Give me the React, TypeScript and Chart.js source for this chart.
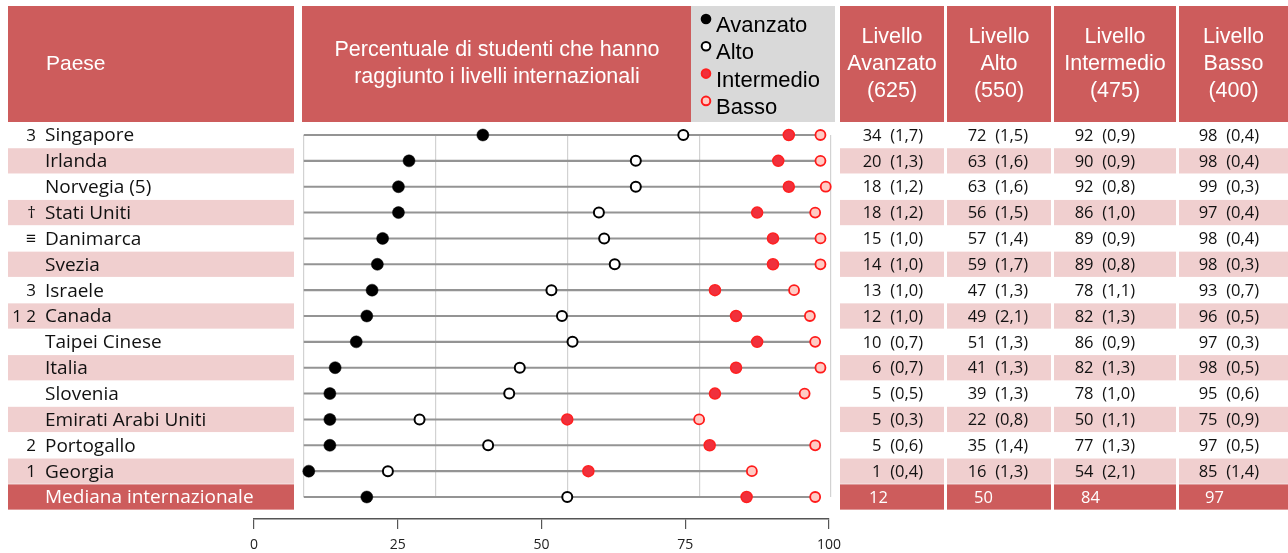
import React, { useEffect, useRef } from 'react';
import { Chart, registerables } from 'chart.js';

Chart.register(...registerables);

// ---------------- data ----------------
const countries = [
  'Singapore', 'Irlanda', 'Norvegia (5)', 'Stati Uniti', 'Danimarca', 'Svezia', 'Israele',
  'Canada', 'Taipei Cinese', 'Italia', 'Slovenia', 'Emirati Arabi Uniti', 'Portogallo',
  'Georgia', 'Mediana internazionale',
];
const notes = ['3', '', '', '†', '≡', '', '3', '1 2', '', '', '', '', '2', '1', ''];

const avanzato = [34, 20, 18, 18, 15, 14, 13, 12, 10, 6, 5, 5, 5, 1, 12];
const avanzatoSE = ['1,7', '1,3', '1,2', '1,2', '1,0', '1,0', '1,0', '1,0', '0,7', '0,7', '0,5', '0,3', '0,6', '0,4', ''];
const alto = [72, 63, 63, 56, 57, 59, 47, 49, 51, 41, 39, 22, 35, 16, 50];
const altoSE = ['1,5', '1,6', '1,6', '1,5', '1,4', '1,7', '1,3', '2,1', '1,3', '1,3', '1,3', '0,8', '1,4', '1,3', ''];
const intermedio = [92, 90, 92, 86, 89, 89, 78, 82, 86, 82, 78, 50, 77, 54, 84];
const intermedioSE = ['0,9', '0,9', '0,8', '1,0', '0,9', '0,8', '1,1', '1,3', '0,9', '1,3', '1,0', '1,1', '1,3', '2,1', ''];
const basso = [98, 98, 99, 97, 98, 98, 93, 96, 97, 98, 95, 75, 97, 85, 97];
const bassoSE = ['0,4', '0,4', '0,3', '0,4', '0,4', '0,3', '0,7', '0,5', '0,3', '0,5', '0,6', '0,9', '0,5', '1,4', ''];

const levelNames = ['Avanzato', 'Alto', 'Intermedio', 'Basso'];
const levelScores = ['625', '550', '475', '400'];
const axisTicks = [0, 25, 50, 75, 100];

const headerTitle = ['Percentuale di studenti che hanno', 'raggiunto i livelli internazionali'];

// ---------------- styles ----------------
const RED = '#CD5C5C';
const PINK = '#F0CFCF';
const LEGEND_BG = '#D9D9D9';
const ROW_FONT = '"Open Sans", "Noto Sans", sans-serif';
const HEAD_FONT = '"Liberation Sans", Arial, sans-serif';
const tableCols: [number, number][] = [[840, 944], [947, 1051], [1054, 1176], [1179, 1288]];
const tableTextRight = [923, 1028, 1135, 1259];

const series = [
  { label: 'Avanzato', data: avanzato, se: avanzatoSE, bg: '#000000', border: '#000000', r: 6, bw: 0.5 },
  { label: 'Alto', data: alto, se: altoSE, bg: '#FFFFFF', border: '#000000', r: 5, bw: 2 },
  { label: 'Intermedio', data: intermedio, se: intermedioSE, bg: '#F0303C', border: '#FF2020', r: 5.5, bw: 1.5 },
  { label: 'Basso', data: basso, se: bassoSE, bg: '#FFCBC4', border: '#FF1A1A', r: 5, bw: 1.8 },
];

const decor = {
  id: 'decor',
  beforeDraw(chart: any) {
    const ctx = chart.ctx;
    const y = chart.scales.y;
    const step = y.getPixelForValue(1) - y.getPixelForValue(0);
    ctx.save();
    ctx.fillStyle = RED;
    ctx.fillRect(8, 6, 286, 116);
    ctx.fillRect(302, 6, 389, 116);
    tableCols.forEach(([a, b]) => ctx.fillRect(a, 6, b - a, 116));
    ctx.fillStyle = LEGEND_BG;
    ctx.fillRect(691, 6, 144, 116);

    countries.forEach((_, i) => {
      const cy = y.getPixelForValue(i);
      const isMedian = i === countries.length - 1;
      if (!isMedian && i % 2 === 0) return;
      ctx.fillStyle = isMedian ? RED : PINK;
      const top = cy - step / 2 + 0.3;
      const h = step - 0.6;
      ctx.fillRect(8, top, 286, h);
      tableCols.forEach(([a, b]) => ctx.fillRect(a, top, b - a, h));
    });
    ctx.restore();
  },
  afterDraw(chart: any) {
    const ctx = chart.ctx;
    const y = chart.scales.y;
    ctx.save();
    ctx.textBaseline = 'middle';

    // headers
    ctx.fillStyle = '#FFFFFF';
    ctx.font = `21px ${HEAD_FONT}`;
    ctx.textAlign = 'left';
    ctx.fillText('Paese', 46, 64);
    ctx.font = `21.5px ${HEAD_FONT}`;
    ctx.textAlign = 'center';
    ctx.fillText(headerTitle[0], 497, 50);
    ctx.fillText(headerTitle[1], 497, 77);
    levelNames.forEach((n, k) => {
      const [a, b] = tableCols[k];
      const cx = (a + b) / 2;
      ctx.fillText('Livello', cx, 37);
      ctx.fillText(n, cx, 64);
      ctx.fillText(`(${levelScores[k]})`, cx, 91);
    });

    // legend
    ctx.font = `22px ${HEAD_FONT}`;
    ctx.textAlign = 'left';
    series.forEach((s, k) => {
      const ty = 26 + k * 27.3;
      ctx.beginPath();
      ctx.arc(706, ty - 7, s.bw > 1 ? 4.3 : 5.3, 0, Math.PI * 2);
      ctx.fillStyle = s.bg;
      ctx.fill();
      if (s.bw > 1) {
        ctx.lineWidth = 2;
        ctx.strokeStyle = s.border;
        ctx.stroke();
      }
      ctx.fillStyle = '#000000';
      ctx.fillText(s.label, 716, ty);
    });

    // row labels and table values
    countries.forEach((name, i) => {
      const cy = y.getPixelForValue(i) + 1;
      const isMedian = i === countries.length - 1;
      ctx.font = `19px ${ROW_FONT}`;
      ctx.fillStyle = isMedian ? '#FFFFFF' : '#111111';
      if (notes[i]) {
        ctx.textAlign = 'right';
        ctx.font = `17px ${ROW_FONT}`;
        ctx.fillText(notes[i], 36, cy);
        ctx.font = `19px ${ROW_FONT}`;
      }
      ctx.textAlign = 'left';
      ctx.fillText(name, 45, cy);

      ctx.font = `16.5px ${ROW_FONT}`;
      series.forEach((s, k) => {
        if (isMedian) {
          ctx.textAlign = 'left';
          ctx.fillText(String(s.data[i]), tableTextRight[k] - 54, cy);
        } else {
          ctx.textAlign = 'right';
          ctx.fillText(`${s.data[i]}  (${s.se[i]})`, tableTextRight[k], cy);
        }
      });
    });
    ctx.restore();
  },
};

export default function App() {
  const mainRef = useRef<HTMLCanvasElement | null>(null);
  const axisRef = useRef<HTMLCanvasElement | null>(null);

  useEffect(() => {
    const main = new Chart(mainRef.current as HTMLCanvasElement, {
      type: 'bar',
      data: {
        labels: countries,
        datasets: [
          {
            type: 'bar',
            label: 'range',
            data: basso.map((b) => [0, b]) as any,
            backgroundColor: '#949494',
            barThickness: 1.4,
            order: 10,
            clip: false as any,
          } as any,
          ...series.map((s, k) => ({
            type: 'line',
            label: s.label,
            data: s.data,
            indexAxis: 'y',
            showLine: false,
            pointRadius: s.r,
            pointHoverRadius: s.r,
            pointBackgroundColor: s.bg,
            pointBorderColor: s.border,
            pointBorderWidth: s.bw,
            order: 4 - k,
            clip: false,
          })) as any,
        ],
      },
      options: {
        indexAxis: 'y',
        responsive: false,
        maintainAspectRatio: false,
        animation: false,
        events: [],
        layout: { padding: { left: 303.5, right: 457, top: 135, bottom: 56 } },
        plugins: { legend: { display: false }, tooltip: { enabled: false } },
        scales: {
          x: {
            type: 'linear',
            min: 0,
            max: 100,
            ticks: { display: false, stepSize: 25 },
            grid: { color: '#D2D2D2', drawTicks: false, lineWidth: 1.2 },
            border: { display: false },
            afterFit: (s: any) => { s.height = 0; },
          },
          y: {
            type: 'category',
            offset: false,
            display: false,
          },
        },
      } as any,
      plugins: [decor],
    });

    const axis = new Chart(axisRef.current as HTMLCanvasElement, {
      type: 'scatter',
      data: { datasets: [] },
      options: {
        responsive: false,
        maintainAspectRatio: false,
        animation: false,
        events: [],
        layout: { padding: { left: 254, right: 459, top: 0, bottom: 0 } },
        plugins: { legend: { display: false }, tooltip: { enabled: false } },
        scales: {
          x: {
            type: 'linear',
            position: 'bottom',
            min: 0,
            max: 100,
            afterBuildTicks: (s: any) => { s.ticks = axisTicks.map((v) => ({ value: v })); },
            afterFit: (s: any) => { s.height = 34; },
            ticks: {
              color: '#222222',
              font: { family: ROW_FONT, size: 14 },
              padding: 8,
              maxRotation: 0,
              autoSkip: false,
            },
            grid: { display: true, drawOnChartArea: false, drawTicks: true, tickLength: 10, color: '#555555', lineWidth: 1.2 },
            border: { display: true, color: '#555555', width: 1.5 },
          },
          y: { display: false },
        },
      } as any,
    });

    return () => {
      main.destroy();
      axis.destroy();
    };
  }, []);

  return (
    <div style={{ position: 'absolute', left: 0, top: 0, width: 1288, height: 553, background: '#FFFFFF' }}>
      <canvas ref={mainRef} width={1288} height={553} style={{ position: 'absolute', left: 0, top: 0 }} />
      <canvas ref={axisRef} width={1288} height={51} style={{ position: 'absolute', left: 0, top: 502 }} />
    </div>
  );
}
